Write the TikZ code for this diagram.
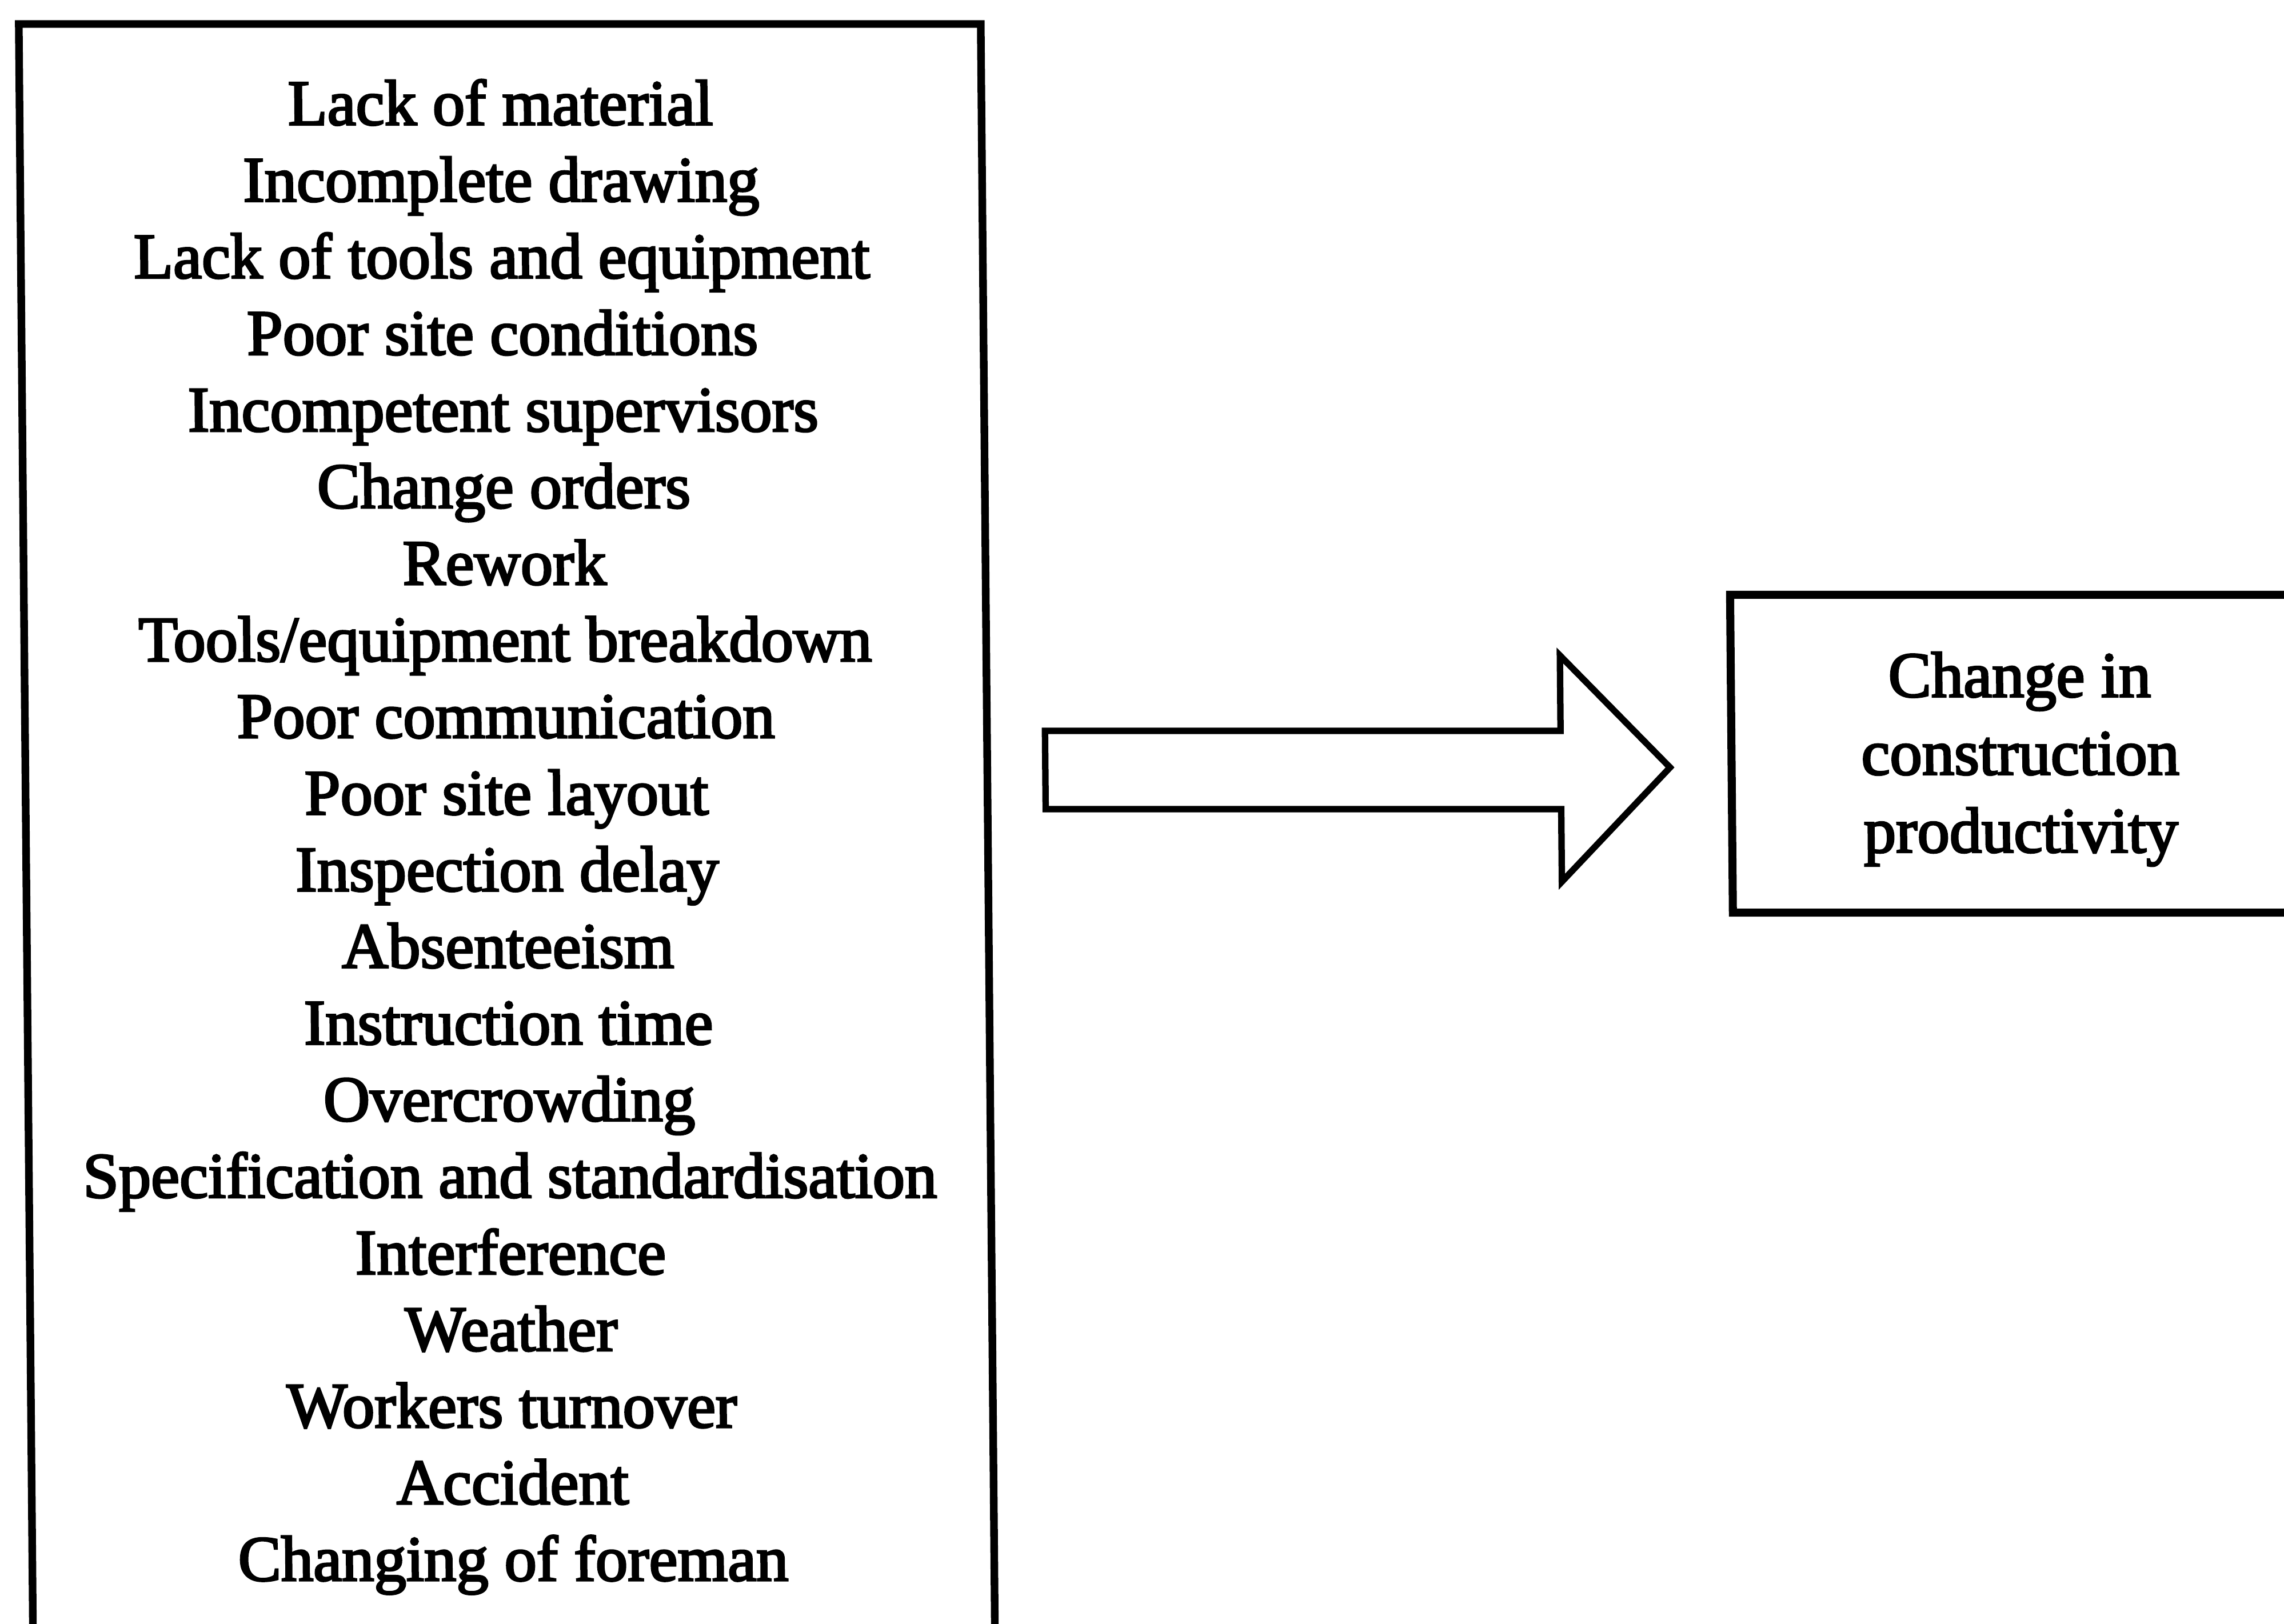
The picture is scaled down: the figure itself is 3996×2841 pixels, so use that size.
\documentclass[tikz,border=0pt]{standalone}
\usepackage{fontspec}
\newfontfamily\scanfont{Liberation Serif}[FakeBold=3]
\begin{document}
\begin{tikzpicture}[x=0.01cm,y=-0.01cm,
  boxline/.style={draw=black,line width=3.8pt,outer sep=0pt},
  causetext/.style={font=\scanfont\fontsize{32}{38.13}\selectfont, align=center, text=black},
  effecttext/.style={font=\scanfont\fontsize{32}{38.7}\selectfont, align=center, text=black},
  blockarrow/.style={draw=black,line width=3.2pt,line join=miter}]
\useasboundingbox (0,0) rectangle (3996,2841);
\fill[white] (0,0) rectangle (3996,2841);
\clip (0,0) rectangle (3996,2841);
\begin{scope}[xslant=-0.0088, transform shape]
\node[boxline, causetext, anchor=north, minimum width=16.82cm, inner xsep=0pt, inner ysep=0.97cm] (causes) at (874,42)
{Lack of material\\
Incomplete drawing\\
Lack of tools and equipment\\
Poor site conditions\\
Incompetent supervisors\\
Change orders\\
Rework\\
Tools/equipment breakdown\\
Poor communication\\
Poor site layout\\
Inspection delay\\
Absenteeism\\
Instruction time\\
Overcrowding\\
Specification and standardisation\\
Interference\\
Weather\\
Workers turnover\\
Accident\\
Changing of foreman};
\node[boxline, effecttext, line width=4pt, minimum width=10.10cm, minimum height=5.56cm, text height=3.69cm] (effect) at (3523,1319)
{Change in\\construction\\productivity};
\coordinate (a1) at (1817,1279);
\coordinate (a2) at (2719,1279);
\coordinate (a3) at (2719,1147);
\coordinate (tip) at (2910,1343);
\coordinate (a5) at (2719,1543);
\coordinate (a6) at (2719,1416);
\coordinate (a7) at (1817,1416);
\draw[blockarrow] (a1) -- (a2) -- (a3) -- (tip) -- (a5) -- (a6) -- (a7) -- cycle;
\end{scope}
\end{tikzpicture}
\end{document}
